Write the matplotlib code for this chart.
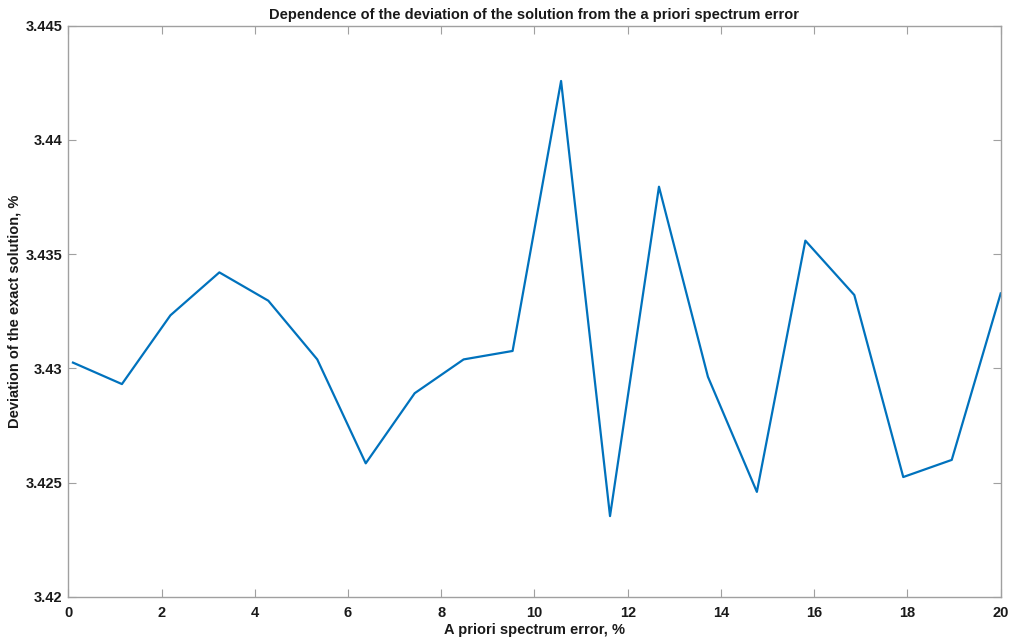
import matplotlib.pyplot as plt

plt.rcParams['font.family'] = ['Liberation Sans', 'DejaVu Sans']

# a priori spectrum error, %
spectrum_error = [0.1, 1.15, 2.19, 3.24, 4.29, 5.34, 6.38, 7.43, 8.48, 9.53,
                  10.57, 11.62, 12.67, 13.72, 14.77, 15.81, 16.86, 17.91, 18.95, 20.0]
# deviation of the exact solution, %
deviation = [3.43025, 3.42931, 3.43232, 3.43420, 3.43296, 3.43039, 3.42584,
             3.42891, 3.43039, 3.43076, 3.44258, 3.42353, 3.43795, 3.42963,
             3.42459, 3.43559, 3.43321, 3.42524, 3.42599, 3.43328]

x_ticks = [0, 2, 4, 6, 8, 10, 12, 14, 16, 18, 20]
y_ticks = [3.42, 3.425, 3.43, 3.435, 3.44, 3.445]
y_tick_labels = ['3.42', '3.425', '3.43', '3.435', '3.44', '3.445']

fig = plt.figure(figsize=(10.15, 6.38), dpi=100)
ax = fig.add_axes([0.0673, 0.0647, 0.9186, 0.895])

ax.plot(spectrum_error, deviation, color='#0072BD', lw=1.6)

ax.set_xlim(0, 20)
ax.set_ylim(3.42, 3.445)
ax.set_xticks(x_ticks)
ax.set_xticklabels([str(t) for t in x_ticks])
ax.set_yticks(y_ticks)
ax.set_yticklabels(y_tick_labels)

axis_grey = '#a0a0a0'
for s in ax.spines.values():
    s.set_color(axis_grey)
    s.set_linewidth(1.0)
ax.tick_params(direction='in', length=5.5, width=0.8, color=axis_grey,
               top=True, right=True, labelsize=10.5, labelcolor='#1a1a1a')
ax.tick_params(axis='x', pad=7)
ax.tick_params(axis='y', pad=4)
for lab in ax.get_xticklabels() + ax.get_yticklabels():
    lab.set_fontweight('bold')

ax.set_xlabel('A priori spectrum error, %', fontsize=10.5, fontweight='bold',
              color='#1a1a1a', labelpad=2)
ax.set_ylabel('Deviation of the exact solution, %', fontsize=10.5,
              fontweight='bold', color='#1a1a1a', labelpad=3)
ax.set_title('Dependence of the deviation of the solution from the a priori spectrum error',
             fontsize=10.5, fontweight='bold', color='#1a1a1a', pad=5)

fig.savefig('out.png', dpi=100)
